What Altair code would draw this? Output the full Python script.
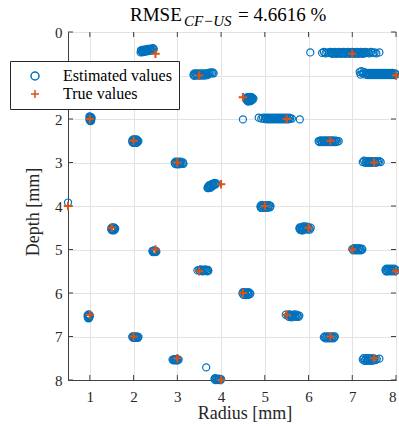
import altair as alt
import pandas as pd

# ---- text ----
title_main = ["RMSE"]
title_sub = ["CF\u2212US"]
title_rest = ["= 4.6616 %"]
x_title = ["Radius [mm]"]
y_title = ["Depth [mm]"]

series_names = ["Estimated values", "True values"]
series_colors = ["#0072BD", "#D95319"]

x_ticks = [1, 2, 3, 4, 5, 6, 7, 8]
y_ticks = [0, 1, 2, 3, 4, 5, 6, 7, 8]

# ---- true values ----
true_radius = [2.5, 7.0, 3.5, 8.0, 4.5, 1.0, 5.5, 2.0, 6.5, 3.0, 7.5, 4.0, 0.5, 5.0,
               1.5, 6.0, 2.5, 7.0, 3.5, 8.0, 4.5, 1.0, 5.5, 2.0, 6.5, 3.0, 7.5, 4.0]
true_depth = [0.5, 0.5, 1.0, 1.0, 1.5, 2.0, 2.0, 2.5, 2.5, 3.0, 3.0, 3.5, 4.0, 4.0,
              4.5, 4.5, 5.0, 5.0, 5.5, 5.5, 6.0, 6.5, 6.5, 7.0, 7.0, 7.5, 7.5, 8.0]

# ---- estimated values (radius, depth), read cluster by cluster ----
est_points = [
    # near (2.5, 0.5)
    (2.16, 0.47), (2.18, 0.44), (2.20, 0.41), (2.22, 0.46), (2.24, 0.43), (2.26, 0.40),
    (2.28, 0.45), (2.30, 0.42), (2.32, 0.39), (2.34, 0.44), (2.36, 0.41), (2.38, 0.38),
    (2.40, 0.43), (2.42, 0.40), (2.44, 0.37), (2.46, 0.40), (2.17, 0.42), (2.21, 0.44),
    (2.27, 0.42), (2.33, 0.41), (2.39, 0.40), (2.45, 0.38), (2.19, 0.46), (2.25, 0.45),
    # near (7, 0.5)
    (6.04, 0.47), (6.31, 0.48), (6.35, 0.46), (6.39, 0.49), (6.43, 0.47), (6.47, 0.48),
    (6.50, 0.46), (6.52, 0.48), (6.54, 0.50), (6.56, 0.47), (6.58, 0.49), (6.60, 0.46),
    (6.62, 0.48), (6.64, 0.50), (6.66, 0.47), (6.68, 0.49), (6.70, 0.46), (6.72, 0.48),
    (6.74, 0.50), (6.76, 0.47), (6.78, 0.49), (6.80, 0.46), (6.82, 0.48), (6.84, 0.50),
    (6.86, 0.47), (6.88, 0.49), (6.90, 0.46), (6.92, 0.48), (6.94, 0.50), (6.96, 0.47),
    (6.98, 0.49), (7.00, 0.46), (7.02, 0.48), (7.04, 0.50), (7.06, 0.47), (7.08, 0.49),
    (7.10, 0.46), (7.12, 0.48), (7.14, 0.50), (7.16, 0.47), (7.18, 0.49), (7.20, 0.46),
    (7.22, 0.48), (7.24, 0.50), (7.26, 0.47), (7.28, 0.49), (7.30, 0.46), (7.32, 0.48),
    (7.35, 0.47), (7.39, 0.49), (7.43, 0.46), (7.47, 0.48), (7.51, 0.47), (7.55, 0.49),
    (7.62, 0.47),
    # near (8, 1)
    (7.17, 0.92), (7.19, 0.98), (7.21, 0.90), (7.24, 0.95), (7.27, 0.92), (7.30, 0.98),
    (7.32, 0.94), (7.34, 0.97), (7.36, 0.99), (7.38, 0.94), (7.40, 0.97), (7.42, 0.99),
    (7.44, 0.94), (7.46, 0.97), (7.48, 0.99), (7.50, 0.94), (7.52, 0.97), (7.54, 0.99),
    (7.56, 0.94), (7.58, 0.97), (7.60, 0.99), (7.62, 0.94), (7.64, 0.97), (7.66, 0.99),
    (7.68, 0.94), (7.70, 0.97), (7.72, 0.99), (7.74, 0.94), (7.76, 0.97), (7.78, 0.99),
    (7.80, 0.94), (7.82, 0.97), (7.84, 0.99), (7.86, 0.94), (7.88, 0.97), (7.90, 0.99),
    (7.92, 0.94), (7.94, 0.97), (7.96, 0.99), (7.98, 0.95), (8.00, 0.98),
    # near (3.5, 1)
    (3.37, 0.99), (3.39, 1.01), (3.41, 0.95), (3.43, 0.97), (3.45, 1.00), (3.47, 0.95),
    (3.49, 0.97), (3.51, 1.00), (3.53, 0.95), (3.55, 0.97), (3.57, 1.00), (3.59, 0.95),
    (3.61, 0.97), (3.63, 1.00), (3.65, 0.95), (3.67, 0.97), (3.69, 0.99), (3.71, 0.94),
    (3.73, 0.96), (3.76, 0.93), (3.79, 0.95), (3.81, 0.93), (3.83, 0.95), (3.38, 0.96),
    # near (4.5, 1.5)
    (4.58, 1.52), (4.58, 1.56), (4.60, 1.50), (4.60, 1.54), (4.60, 1.58), (4.62, 1.52),
    (4.62, 1.56), (4.62, 1.60), (4.64, 1.50), (4.64, 1.54), (4.64, 1.58), (4.66, 1.49),
    (4.66, 1.53), (4.66, 1.57), (4.68, 1.51), (4.68, 1.55), (4.68, 1.59), (4.70, 1.50),
    (4.70, 1.54), (4.72, 1.52), (4.72, 1.56), (4.74, 1.53),
    # near (5.5, 2)
    (4.50, 2.01), (4.86, 1.97), (4.92, 1.99), (4.96, 1.97), (5.00, 2.00), (5.02, 1.97),
    (5.04, 1.99), (5.06, 2.01), (5.08, 1.97), (5.10, 1.99), (5.12, 2.01), (5.14, 1.97),
    (5.16, 1.99), (5.18, 2.01), (5.20, 1.97), (5.22, 1.99), (5.24, 2.01), (5.26, 1.97),
    (5.28, 1.99), (5.30, 2.01), (5.32, 1.97), (5.34, 1.99), (5.36, 2.01), (5.38, 1.97),
    (5.40, 1.99), (5.42, 2.01), (5.44, 1.97), (5.46, 1.99), (5.48, 2.01), (5.50, 1.97),
    (5.52, 1.99), (5.54, 2.01), (5.56, 1.97), (5.58, 1.99), (5.62, 1.99), (5.80, 2.01),
    # near (1, 2)
    (0.99, 1.94), (1.01, 1.95), (1.03, 1.96), (1.04, 1.98), (1.02, 1.99), (1.00, 2.00),
    (0.99, 2.02), (1.01, 2.03), (1.03, 2.04), (1.01, 2.05), (1.00, 1.97), (1.02, 2.01),
    # near (2, 2.5)
    (1.97, 2.49), (1.97, 2.53), (1.99, 2.47), (1.99, 2.51), (1.99, 2.55), (2.01, 2.49),
    (2.01, 2.53), (2.03, 2.47), (2.03, 2.51), (2.03, 2.55), (2.05, 2.49), (2.05, 2.53),
    (2.07, 2.47), (2.07, 2.51), (2.07, 2.55), (2.09, 2.49), (2.09, 2.53), (2.11, 2.51),
    # near (3, 3)
    (2.94, 3.01), (2.96, 2.98), (2.98, 3.04), (3.00, 3.01), (3.02, 2.98), (3.04, 3.04),
    (3.06, 3.01), (3.08, 2.98), (3.10, 3.02), (3.13, 3.00), (3.14, 3.03), (2.95, 3.03),
    (2.99, 2.99), (3.03, 3.02), (3.07, 3.03),
    # near (0.5, 4)
    (0.50, 3.92),
    # near (1.5, 4.5)
    (1.49, 4.51), (1.49, 4.54), (1.51, 4.49), (1.51, 4.53), (1.51, 4.56), (1.53, 4.51),
    (1.53, 4.55), (1.55, 4.49), (1.55, 4.53), (1.55, 4.56), (1.57, 4.51), (1.57, 4.54),
    (1.58, 4.52),
    # near (2.5, 5)
    (2.43, 5.03), (2.45, 5.05), (2.47, 5.02), (2.49, 5.05), (2.51, 5.03), (2.52, 5.05),
    (2.44, 5.06), (2.48, 5.04), (2.50, 5.06), (2.46, 5.03),
    # near (4, 3.5)
    (3.69, 3.59), (3.71, 3.55), (3.73, 3.52), (3.75, 3.56), (3.77, 3.52), (3.79, 3.49),
    (3.81, 3.54), (3.83, 3.50), (3.85, 3.47), (3.87, 3.51), (3.89, 3.48), (3.70, 3.57),
    (3.74, 3.54), (3.78, 3.53), (3.82, 3.52), (3.86, 3.49), (3.72, 3.59), (3.76, 3.58),
    # near (6.5, 2.5)
    (6.23, 2.51), (6.25, 2.53), (6.27, 2.49), (6.29, 2.51), (6.31, 2.53), (6.33, 2.49),
    (6.35, 2.51), (6.37, 2.53), (6.39, 2.49), (6.41, 2.51), (6.43, 2.53), (6.45, 2.49),
    (6.47, 2.51), (6.49, 2.53), (6.51, 2.49), (6.53, 2.51), (6.55, 2.53), (6.57, 2.49),
    (6.59, 2.51), (6.61, 2.53), (6.63, 2.50), (6.66, 2.52), (6.69, 2.51),
    # near (7.5, 3)
    (7.24, 2.99), (7.27, 2.96), (7.30, 3.01), (7.32, 2.97), (7.34, 2.99), (7.36, 3.01),
    (7.38, 2.97), (7.40, 2.99), (7.42, 3.01), (7.44, 2.97), (7.46, 2.99), (7.48, 3.01),
    (7.50, 2.97), (7.52, 2.99), (7.54, 3.01), (7.56, 2.97), (7.59, 2.99), (7.62, 2.97),
    (7.65, 2.99),
    # near (5, 4)
    (4.90, 4.01), (4.92, 3.98), (4.94, 4.04), (4.96, 4.01), (4.98, 3.98), (5.00, 4.04),
    (5.02, 4.01), (5.04, 3.98), (5.06, 4.04), (5.08, 4.01), (5.10, 3.98), (5.12, 4.03),
    (5.13, 4.00), (4.91, 4.04), (4.95, 3.99),
    # near (6, 4.5)
    (5.79, 4.52), (5.81, 4.55), (5.83, 4.49), (5.85, 4.53), (5.87, 4.56), (5.89, 4.50),
    (5.91, 4.53), (5.93, 4.47), (5.95, 4.51), (5.97, 4.54), (5.99, 4.48), (6.01, 4.51),
    (6.03, 4.54), (6.05, 4.50), (5.80, 4.49), (5.84, 4.56), (5.88, 4.47),
    # near (7, 5)
    (7.00, 4.99), (7.02, 5.02), (7.04, 4.97), (7.06, 5.00), (7.08, 5.02), (7.10, 4.97),
    (7.12, 5.00), (7.14, 5.02), (7.16, 4.97), (7.18, 5.00), (7.20, 5.02), (7.22, 4.98),
    (7.23, 5.00),
    # near (8, 5.5)
    (7.76, 5.47), (7.78, 5.44), (7.80, 5.50), (7.82, 5.47), (7.84, 5.44), (7.86, 5.50),
    (7.88, 5.47), (7.90, 5.44), (7.92, 5.50), (7.94, 5.47), (7.96, 5.44), (7.98, 5.50),
    (8.00, 5.47), (7.77, 5.50),
    # near (3.5, 5.5)
    (3.46, 5.48), (3.50, 5.47), (3.52, 5.49), (3.54, 5.46), (3.56, 5.48), (3.58, 5.50),
    (3.60, 5.47), (3.62, 5.49), (3.64, 5.46), (3.66, 5.48), (3.68, 5.50), (3.70, 5.47),
    (3.71, 5.49),
    # near (1, 6.5)
    (0.95, 6.51), (0.95, 6.55), (0.97, 6.49), (0.97, 6.53), (0.97, 6.57), (0.99, 6.51),
    (0.99, 6.55), (1.00, 6.53), (0.96, 6.58), (0.98, 6.58),
    # near (2, 7)
    (1.97, 7.01), (1.99, 7.03), (2.01, 7.00), (2.03, 7.02), (2.05, 7.03), (2.07, 7.00),
    (2.09, 7.02), (2.11, 7.01), (1.98, 7.00), (2.02, 7.03), (2.06, 7.01), (2.10, 7.03),
    # near (3, 7.5)
    (2.89, 7.53), (2.91, 7.55), (2.93, 7.52), (2.95, 7.54), (2.97, 7.55), (2.99, 7.52),
    (3.01, 7.54), (3.03, 7.53), (2.92, 7.53), (2.96, 7.53), (3.00, 7.55),
    # single outlier
    (3.66, 7.71),
    # near (4, 8)
    (3.85, 7.98), (3.87, 8.00), (3.89, 7.97), (3.91, 7.99), (3.93, 8.00), (3.95, 7.97),
    (3.97, 7.99), (3.99, 8.00), (4.00, 7.98), (3.86, 7.96),
    # near (4.5, 6)
    (4.49, 6.01), (4.51, 6.04), (4.53, 5.98), (4.55, 6.02), (4.57, 6.05), (4.59, 5.99),
    (4.61, 6.02), (4.63, 6.04), (4.65, 5.99), (4.67, 6.02), (4.50, 5.98), (4.62, 5.98),
    # near (5.5, 6.5)
    (5.48, 6.50), (5.53, 6.52), (5.55, 6.55), (5.57, 6.50), (5.59, 6.53), (5.61, 6.56),
    (5.63, 6.51), (5.65, 6.54), (5.67, 6.49), (5.69, 6.52), (5.71, 6.55), (5.73, 6.50),
    (5.75, 6.53), (5.77, 6.55), (5.79, 6.52), (5.56, 6.49),
    # near (6.5, 7)
    (6.35, 7.02), (6.37, 7.00), (6.39, 7.04), (6.41, 7.02), (6.43, 7.00), (6.45, 7.04),
    (6.47, 7.02), (6.49, 7.00), (6.51, 7.04), (6.53, 7.02), (6.55, 7.00), (6.57, 7.04),
    (6.59, 7.02), (6.60, 7.00),
    # near (7.5, 7.5)
    (7.24, 7.53), (7.26, 7.50), (7.28, 7.56), (7.30, 7.53), (7.32, 7.50), (7.34, 7.56),
    (7.36, 7.53), (7.38, 7.50), (7.40, 7.56), (7.42, 7.53), (7.44, 7.50), (7.46, 7.56),
    (7.48, 7.53), (7.50, 7.51), (7.53, 7.54), (7.56, 7.52), (7.62, 7.51),
]

est_df = pd.DataFrame(est_points, columns=["radius", "depth"])
est_df["series"] = series_names[0]
true_df = pd.DataFrame({"radius": true_radius, "depth": true_depth})
true_df["series"] = series_names[1]
xt_df = pd.DataFrame({"radius": x_ticks})
yt_df = pd.DataFrame({"depth": y_ticks})

W, H = 328, 348
FONT = "Liberation Serif, Times New Roman, DejaVu Serif, serif"
AX = "#404040"

x_scale = alt.Scale(domain=[0.5, 8], nice=False, zero=False)
y_scale = alt.Scale(domain=[0, 8], nice=False, zero=False, reverse=True)
color_scale = alt.Scale(domain=series_names, range=series_colors)
shape_scale = alt.Scale(domain=series_names, range=["circle", "M-1,0H1M0,-1V1"])

x_axis = alt.Axis(values=x_ticks, title=None, grid=True, ticks=False, tickSize=0,
                  labelPadding=21, labelBaseline="alphabetic")
y_axis = alt.Axis(values=y_ticks, title=None, grid=True, ticks=False, tickSize=0,
                  labelPadding=6)

X = alt.X("radius:Q", scale=x_scale, axis=x_axis)
Y = alt.Y("depth:Q", scale=y_scale, axis=y_axis)

est = alt.Chart(est_df).mark_point(filled=False, size=50, strokeWidth=1.2, opacity=1).encode(
    x=X, y=Y,
    color=alt.Color("series:N", scale=color_scale, legend=alt.Legend(title=None)),
    shape=alt.Shape("series:N", scale=shape_scale, legend=alt.Legend(title=None)),
)
tru = alt.Chart(true_df).mark_point(filled=False, size=72, strokeWidth=2, opacity=1).encode(
    x=X, y=Y,
    color=alt.Color("series:N", scale=color_scale, legend=alt.Legend(title=None)),
    shape=alt.Shape("series:N", scale=shape_scale, legend=alt.Legend(title=None)),
)

tick_b = alt.Chart(xt_df).mark_rule(color=AX, strokeWidth=1).encode(
    x=X, y=alt.value(H), y2=alt.value(H - 5))
tick_t = alt.Chart(xt_df).mark_rule(color=AX, strokeWidth=1).encode(
    x=X, y=alt.value(0), y2=alt.value(5))
tick_l = alt.Chart(yt_df).mark_rule(color=AX, strokeWidth=1).encode(
    y=Y, x=alt.value(0), x2=alt.value(5))
tick_r = alt.Chart(yt_df).mark_rule(color=AX, strokeWidth=1).encode(
    y=Y, x=alt.value(W), x2=alt.value(W - 5))


def text_layer(values, size, x, y, align="left", angle=0, italic=False, color="black"):
    kw = dict(font=FONT, fontSize=size, align=align, baseline="alphabetic", color=color)
    if angle:
        kw["angle"] = angle
    if italic:
        kw["fontStyle"] = "italic"
    return alt.Chart(pd.DataFrame({"t": values})).mark_text(**kw).encode(
        x=alt.value(x), y=alt.value(y), text="t:N")


t1 = text_layer(title_main, 19, 62, -11)
t2 = text_layer(title_sub, 15, 116, -6, italic=True)
t3 = text_layer(title_rest, 19, 170, -11)
tx = text_layer(x_title, 18, 177, H + 39, align="center", color="#262626")
ty = text_layer(y_title, 18, -29, 180, align="center", angle=270, color="#262626")

chart = alt.layer(tick_b, tick_t, tick_l, tick_r, est, tru, t1, t2, t3, tx, ty).properties(
    width=W, height=H,
    autosize=alt.AutoSizeParams(type="none"),
    padding={"left": 68, "top": 32, "right": 3, "bottom": 46},
    background="white",
).configure_view(
    stroke=AX, strokeWidth=1
).configure_axis(
    domainColor=AX, domainWidth=1, gridColor="#e3e3e3", gridWidth=1,
    labelFont=FONT, labelFontSize=15, labelColor="#262626",
).configure_legend(
    orient="none", legendX=-58, legendY=29, padding=7,
    strokeColor="#262626", fillColor="white", cornerRadius=0,
    labelFont=FONT, labelFontSize=16, labelColor="black",
    symbolSize=64, symbolStrokeWidth=1.5, symbolOffset=10, labelOffset=20,
    rowPadding=2,
)

chart.save("out.html", embed_options={"renderer": "svg", "actions": False})
